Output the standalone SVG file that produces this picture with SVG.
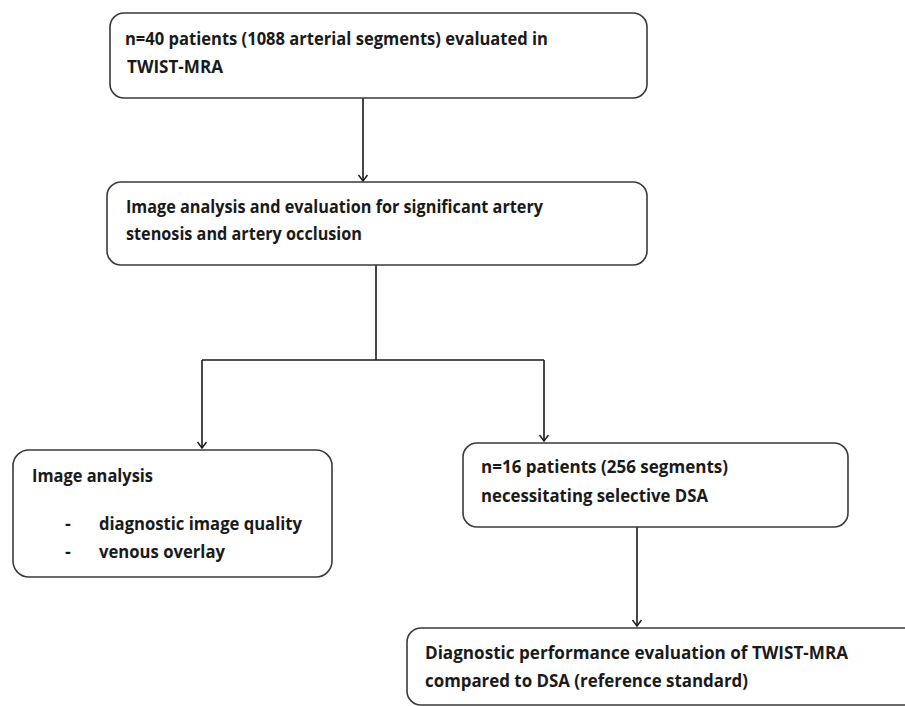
<svg xmlns="http://www.w3.org/2000/svg" width="905" height="706" viewBox="0 0 905 706">
<style>
.box{fill:#fff;stroke:#3a3a3a;stroke-width:1.6}
.t{font-family:"Open Sans","Liberation Sans",sans-serif;font-weight:bold;font-size:18px;fill:#1a1a1a}
.c{fill:none;stroke:#1a1a1a;stroke-width:1.6}
</style>
<defs>
<marker id="ah" markerWidth="12" markerHeight="12" refX="10" refY="6" orient="auto" markerUnits="userSpaceOnUse" viewBox="0 0 12 12">
<path d="M4,1.5 L10,6 L4,10.5" fill="none" stroke="#1a1a1a" stroke-width="1.4"/>
</marker>
</defs>
<rect width="905" height="706" fill="#fff"/>
<g id="connectors">
<path class="c" d="M363,98 V181" marker-end="url(#ah)"/>
<path class="c" d="M376,265 V360 M202,360 H544"/>
<path class="c" d="M202,360 V448" marker-end="url(#ah)"/>
<path class="c" d="M544,360 V441" marker-end="url(#ah)"/>
<path class="c" d="M637,527 V626" marker-end="url(#ah)"/>
</g>
<g id="n1">
<rect class="box" x="110" y="13" width="537" height="85" rx="14"/>
<text class="t" x="125" y="45" textLength="423" lengthAdjust="spacingAndGlyphs">n=40 patients (1088 arterial segments) evaluated in</text>
<text class="t" x="127" y="73" textLength="96" lengthAdjust="spacingAndGlyphs">TWIST-MRA</text>
</g>
<g id="n2">
<rect class="box" x="107" y="182" width="540" height="83" rx="14"/>
<text class="t" x="126" y="213" textLength="417" lengthAdjust="spacingAndGlyphs">Image analysis and evaluation for significant artery</text>
<text class="t" x="126" y="240" textLength="236" lengthAdjust="spacingAndGlyphs">stenosis and artery occlusion</text>
</g>
<g id="n3">
<rect class="box" x="13" y="450" width="319" height="127" rx="16"/>
<text class="t" x="32" y="482" textLength="121" lengthAdjust="spacingAndGlyphs">Image analysis</text>
<text class="t" x="65" y="530">-</text>
<text class="t" x="99" y="530" textLength="203" lengthAdjust="spacingAndGlyphs">diagnostic image quality</text>
<text class="t" x="65" y="558">-</text>
<text class="t" x="99" y="558" textLength="126" lengthAdjust="spacingAndGlyphs">venous overlay</text>
</g>
<g id="n4">
<rect class="box" x="463" y="443" width="385" height="84" rx="14"/>
<text class="t" x="481" y="473" textLength="247" lengthAdjust="spacingAndGlyphs">n=16 patients (256 segments)</text>
<text class="t" x="481" y="502" textLength="227" lengthAdjust="spacingAndGlyphs">necessitating selective DSA</text>
</g>
<g id="n5">
<rect class="box" x="407" y="628" width="520" height="77" rx="14"/>
<text class="t" x="425" y="659" textLength="423" lengthAdjust="spacingAndGlyphs">Diagnostic performance evaluation of TWIST-MRA</text>
<text class="t" x="425" y="687" textLength="323" lengthAdjust="spacingAndGlyphs">compared to DSA (reference standard)</text>
</g>
</svg>
